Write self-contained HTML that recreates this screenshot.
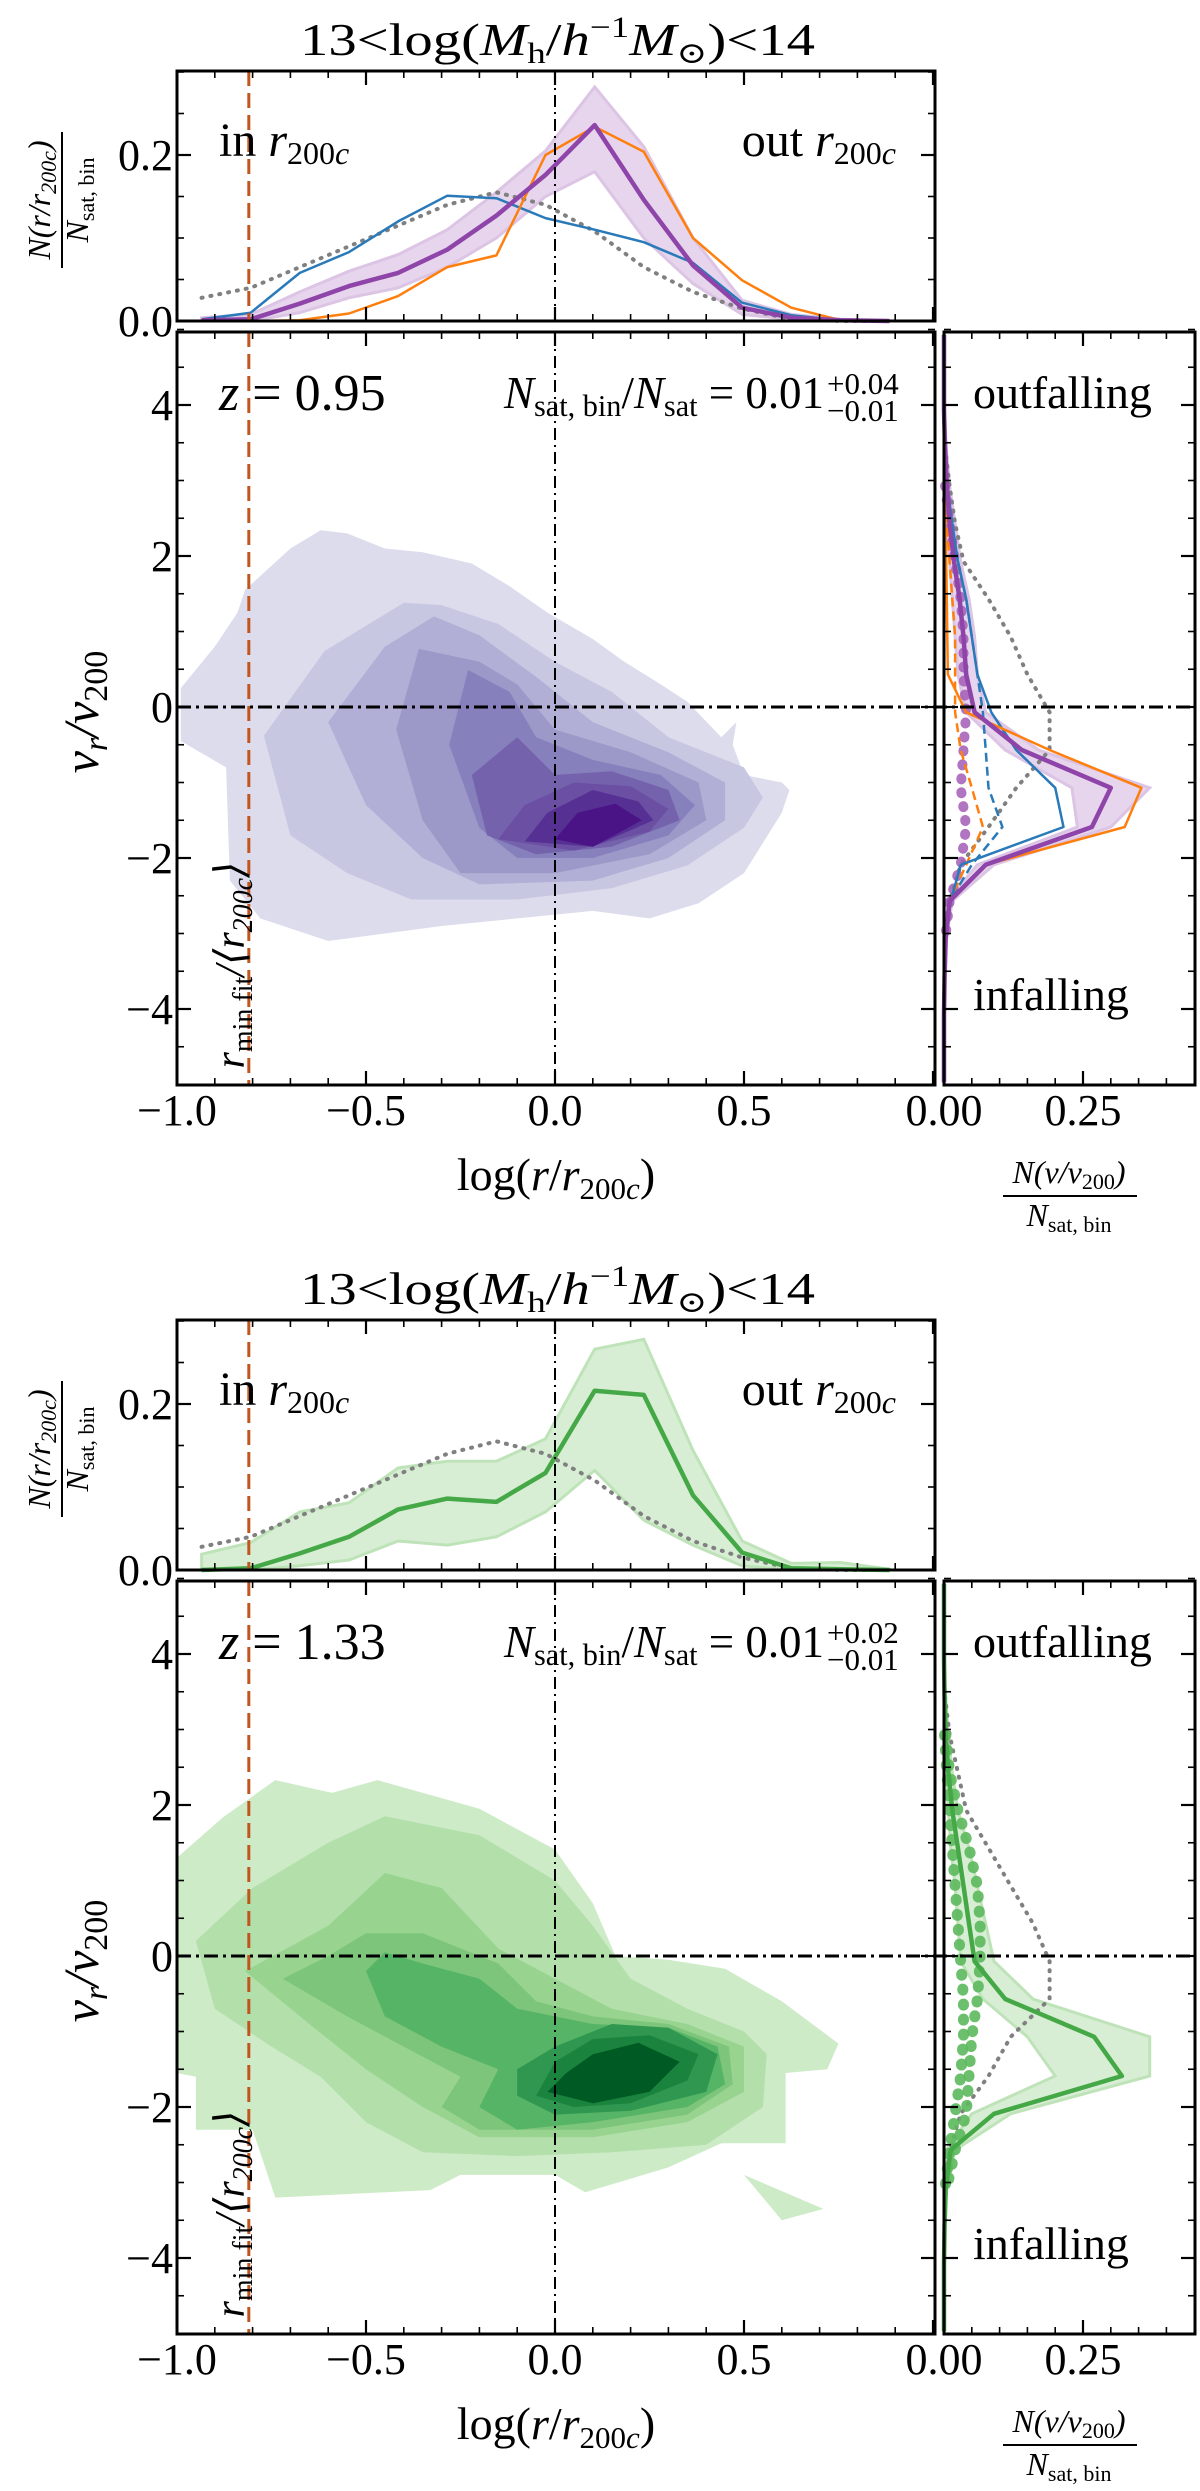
<!DOCTYPE html>
<html><head><meta charset="utf-8"><title>Radial velocity vs radius</title>
<style>
html,body{margin:0;padding:0;background:#fff;}
svg{display:block;font-family:"Liberation Serif","DejaVu Serif",serif;}
</style></head>
<body>
<svg id="chart" xmlns="http://www.w3.org/2000/svg" width="1200" height="2491" viewBox="0 0 1200 2491">
<defs>
<clipPath id="clipMain1"><rect x="177" y="332" width="758" height="753"/></clipPath>
<clipPath id="clipMain2"><rect x="177" y="1581" width="758" height="753"/></clipPath>
</defs>
</svg>
<script>
// ---------- data ----------
const rBins = [-0.935,-0.805,-0.675,-0.545,-0.415,-0.285,-0.155,-0.025,0.105,0.235,0.365,0.495,0.625,0.755,0.885];
const f1HistBlue   = [0.002,0.01,0.058,0.083,0.12,0.151,0.148,0.124,0.11,0.095,0.07,0.022,0.007,0.001,0];
const f1HistOrange = [0,0,0.001,0.009,0.03,0.065,0.079,0.2,0.234,0.204,0.1,0.049,0.016,0.001,0];
const f1HistPurple = [0.001,0.002,0.021,0.042,0.058,0.086,0.127,0.176,0.236,0.146,0.067,0.016,0.004,0.001,0];
const f1HistPurpleHi = [0.004,0.008,0.035,0.06,0.08,0.11,0.155,0.205,0.282,0.21,0.1,0.025,0.008,0.002,0];
const f1HistPurpleLo = [0,0,0.01,0.028,0.04,0.065,0.1,0.15,0.18,0.1,0.045,0.008,0.002,0,0];
const f1HistGray   = [0.028,0.04,0.065,0.09,0.115,0.14,0.155,0.14,0.108,0.065,0.035,0.015,0.002,0,0];
const f2HistGreen  = [0,0.002,0.02,0.04,0.073,0.086,0.082,0.117,0.216,0.211,0.09,0.021,0.002,0.001,0];
const f2HistGreenHi= [0.019,0.033,0.07,0.081,0.123,0.131,0.131,0.158,0.266,0.278,0.144,0.035,0.008,0.009,0.001];
const f2HistGreenLo= [0,0,0.005,0.012,0.035,0.03,0.04,0.07,0.12,0.06,0.03,0.005,0,0,0];
const f2HistGray   = [0.028,0.04,0.065,0.09,0.115,0.14,0.155,0.14,0.108,0.065,0.035,0.015,0.002,0,0];

const vBins = [4.93,4.43,3.93,3.43,2.93,2.43,1.93,1.43,0.93,0.43,-0.07,-0.57,-1.07,-1.59,-2.09,-2.57,-3.07,-3.57,-4.07,-4.57,-4.97];
const f1VPurple   = [0,0,0,0.002,0.005,0.01,0.018,0.028,0.035,0.04,0.055,0.14,0.3,0.266,0.075,0.01,0.003,0.001,0,0,0];
const f1VPurpleHi = [0,0,0,0.004,0.01,0.02,0.03,0.045,0.055,0.06,0.075,0.17,0.37,0.3,0.09,0.015,0.004,0.002,0,0,0];
const f1VPurpleLo = [0,0,0,0,0.002,0.005,0.01,0.015,0.02,0.025,0.04,0.11,0.23,0.24,0.06,0.005,0.001,0,0,0,0];
const f1VOrange   = [0,0,0,0,0,0.002,0.004,0.005,0.006,0.007,0.04,0.19,0.355,0.325,0.075,0.01,0.002,0,0,0,0];
const f1VBlue     = [0,0,0,0.002,0.006,0.015,0.025,0.04,0.05,0.06,0.085,0.13,0.2,0.215,0.03,0.012,0.003,0,0,0,0];
const f1VGray     = [0,0,0,0.002,0.01,0.02,0.035,0.08,0.12,0.15,0.19,0.19,0.13,0.08,0.03,0.01,0.002,0,0,0,0];
const f1VPurpleDots = [0,0,0,0,0.002,0.01,0.02,0.03,0.035,0.035,0.04,0.035,0.03,0.04,0.03,0.01,0.002,0,0,0,0];
const f1VBlueDash   = [0,0,0,0.001,0.004,0.012,0.025,0.04,0.05,0.06,0.07,0.075,0.08,0.105,0.05,0.01,0.002,0,0,0,0];
const f1VOrangeDash = [0,0,0,0,0.002,0.005,0.01,0.015,0.02,0.02,0.02,0.03,0.05,0.07,0.04,0.01,0.002,0,0,0,0];
const f2VGreen    = [0,0,0,0.001,0.003,0.008,0.015,0.025,0.035,0.045,0.055,0.11,0.27,0.32,0.09,0.012,0.003,0.001,0,0,0];
const f2VGreenHi  = [0,0,0,0.003,0.008,0.015,0.025,0.045,0.06,0.075,0.09,0.16,0.37,0.37,0.12,0.02,0.005,0.001,0,0,0];
const f2VGreenLo  = [0,0,0,0,0.001,0.003,0.008,0.012,0.02,0.025,0.03,0.07,0.15,0.2,0.05,0.004,0,0,0,0,0];
const f2VGray     = [0,0,0,0.002,0.01,0.025,0.04,0.08,0.12,0.16,0.19,0.19,0.12,0.08,0.03,0.01,0.002,0,0,0,0];
const f2VGreenDots  = [0,0,0,0,0.003,0.01,0.025,0.045,0.06,0.065,0.065,0.06,0.05,0.045,0.04,0.02,0.005,0,0,0,0];
const f2VGreenDots2 = [0,0,0,0,0.001,0.005,0.01,0.015,0.02,0.025,0.03,0.035,0.035,0.03,0.02,0.01,0.002,0,0,0,0];

const purpleLevels = [
 [[-0.99,0.25],[-0.9,0.8],[-0.84,1.25],[-0.82,1.55],[-0.7,2.1],[-0.62,2.34],[-0.55,2.3],[-0.45,2.1],[-0.35,2.05],[-0.22,1.9],[-0.12,1.6],[-0.02,1.25],[0.1,0.9],[0.18,0.61],[0.28,0.3],[0.35,0.07],[0.44,-0.4],[0.48,-0.2],[0.47,-0.5],[0.5,-0.9],[0.6,-1.0],[0.62,-1.1],[0.6,-1.4],[0.5,-2.2],[0.38,-2.6],[0.25,-2.8],[0.1,-2.7],[-0.1,-2.8],[-0.3,-2.9],[-0.45,-3.0],[-0.6,-3.1],[-0.78,-2.8],[-0.86,-2.3],[-0.87,-0.8],[-0.99,-0.45]],
 [[-0.77,-0.38],[-0.7,-1.7],[-0.55,-2.2],[-0.38,-2.55],[-0.1,-2.55],[0.15,-2.4],[0.35,-2.1],[0.5,-1.6],[0.55,-1.2],[0.5,-0.8],[0.3,-0.4],[0.15,0.2],[0.0,0.6],[-0.15,1.1],[-0.3,1.35],[-0.4,1.38],[-0.61,0.74]],
 [[-0.6,-0.2],[-0.5,-1.3],[-0.35,-2.0],[-0.2,-2.35],[0.1,-2.3],[0.3,-2.0],[0.45,-1.5],[0.45,-1.0],[0.3,-0.6],[0.1,-0.2],[-0.05,0.4],[-0.2,0.95],[-0.32,1.2],[-0.45,0.8]],
 [[-0.42,-0.3],[-0.35,-1.5],[-0.25,-2.2],[0.0,-2.2],[0.25,-1.95],[0.4,-1.5],[0.38,-1.0],[0.2,-0.6],[0.0,-0.3],[-0.1,0.3],[-0.2,0.6],[-0.36,0.77]],
 [[-0.28,-0.5],[-0.2,-1.6],[-0.1,-2.0],[0.1,-2.0],[0.3,-1.7],[0.37,-1.3],[0.28,-0.9],[0.1,-0.7],[-0.05,-0.4],[-0.12,0.2],[-0.23,0.49]],
 [[-0.22,-0.9],[-0.18,-1.7],[-0.05,-1.95],[0.15,-1.85],[0.33,-1.5],[0.3,-1.1],[0.15,-0.85],[0.0,-0.9],[-0.1,-0.4]],
 [[-0.15,-1.75],[0.05,-1.9],[0.25,-1.65],[0.3,-1.35],[0.2,-1.05],[0.05,-1.0],[-0.08,-1.3]],
 [[-0.08,-1.78],[0.1,-1.85],[0.26,-1.5],[0.22,-1.25],[0.1,-1.1],[-0.02,-1.4]],
 [[0.0,-1.75],[0.1,-1.85],[0.23,-1.5],[0.16,-1.28],[0.06,-1.4]]
];
const greenLevels = [
 [[-1.0,1.3],[-0.88,1.83],[-0.74,2.33],[-0.59,2.16],[-0.47,2.33],[-0.2,1.95],[0.0,1.41],[0.1,0.7],[0.16,0.0],[0.3,-0.05],[0.45,-0.17],[0.6,-0.6],[0.75,-1.16],[0.72,-1.5],[0.61,-1.55],[0.61,-2.48],[0.44,-2.48],[0.3,-2.8],[0.08,-3.13],[0.0,-2.9],[-0.25,-2.9],[-0.33,-3.1],[-0.74,-3.2],[-0.8,-2.3],[-0.95,-2.3],[-0.95,-1.6],[-1.0,-1.55]],
 [[0.5,-2.9],[0.71,-3.35],[0.6,-3.5]],
 [[-0.95,0.2],[-0.9,-0.7],[-0.75,-1.2],[-0.62,-1.6],[-0.5,-2.2],[-0.35,-2.6],[-0.1,-2.65],[0.15,-2.6],[0.4,-2.5],[0.55,-2.0],[0.56,-1.3],[0.5,-1.0],[0.35,-0.7],[0.2,-0.3],[0.1,0.4],[0.0,1.0],[-0.2,1.6],[-0.45,1.85],[-0.6,1.5],[-0.8,0.9]],
 [[-0.82,-0.2],[-0.65,-0.9],[-0.5,-1.5],[-0.35,-2.0],[-0.2,-2.4],[0.1,-2.4],[0.35,-2.2],[0.5,-1.8],[0.5,-1.2],[0.35,-0.9],[0.15,-0.7],[0.0,-0.3],[-0.15,0.1],[-0.3,0.9],[-0.45,1.1],[-0.6,0.4]],
 [[-0.72,-0.3],[-0.55,-0.8],[-0.4,-1.2],[-0.25,-1.6],[-0.3,-2.0],[-0.2,-2.3],[0.1,-2.3],[0.35,-2.1],[0.47,-1.7],[0.46,-1.2],[0.3,-0.9],[0.1,-0.8],[-0.05,-0.6],[-0.15,-0.1],[-0.35,0.3],[-0.5,0.3],[-0.6,0.0]],
 [[-0.5,-0.2],[-0.45,-0.8],[-0.3,-1.2],[-0.15,-1.5],[-0.2,-2.0],[-0.1,-2.3],[0.1,-2.2],[0.35,-2.0],[0.45,-1.7],[0.43,-1.2],[0.3,-0.95],[0.1,-0.9],[-0.1,-0.7],[-0.2,-0.3],[-0.35,-0.1],[-0.45,0.05]],
 [[-0.1,-1.85],[0.0,-2.1],[0.2,-2.05],[0.4,-1.8],[0.43,-1.3],[0.3,-0.95],[0.15,-0.9],[0.0,-1.2],[-0.1,-1.5]],
 [[-0.05,-1.85],[0.05,-2.0],[0.2,-1.95],[0.35,-1.65],[0.38,-1.3],[0.25,-1.05],[0.1,-1.1],[0.0,-1.4]],
 [[-0.02,-1.8],[0.1,-1.95],[0.25,-1.8],[0.33,-1.4],[0.22,-1.15],[0.1,-1.3],[0.03,-1.55]]
];
const purpleColors = ["#dcdcec","#c8c7e2","#b1afd5","#9c98c8","#8680bc","#7562ad","#6a4fa3","#573093","#4a1486"];
const greenColors  = ["#cdebc7","#cdebc7","#b2dfaa","#98d490","#7cc57a","#55b466","#2f974f","#1a843f","#005a24"];

const xTickLabels = ["−1.0","−0.5","0.0","0.5"];
const xTickVals = [-1,-0.5,0,0.5];
const vTickLabels = ["−4","−2","0","2","4"];
const vTickVals = [-4,-2,0,2,4];
const hTickLabels = ["0.0","0.2"];
const hTickVals = [0,0.2];
const nTickLabels = ["0.00","0.25"];
const nTickVals = [0,0.25];

// ---------- helpers ----------
const NS = "http://www.w3.org/2000/svg";
const svg = document.getElementById("chart");
function mk(tag, attrs, parent){
  const e = document.createElementNS(NS, tag);
  for (const k in attrs) e.setAttribute(k, attrs[k]);
  (parent||svg).appendChild(e);
  return e;
}
const xS = v => 177 + (v + 1) * 378;
const xR = n => 944 + n * 556;
function pathD(pts){ return pts.map((p,i)=>(i?"L":"M")+p[0].toFixed(1)+","+p[1].toFixed(1)).join(""); }

function ticks(g, x0, x1, y0, y1, xMaj, xMin, yMaj, yMin){
  const add = (a,b,c,d,w) => mk("line",{x1:a,y1:b,x2:c,y2:d,stroke:"#000","stroke-width":w},g);
  xMaj.forEach(x=>{ add(x,y1,x,y1-14,2.2); add(x,y0,x,y0+14,2.2); });
  xMin.forEach(x=>{ add(x,y1,x,y1-7,1.6); add(x,y0,x,y0+7,1.6); });
  yMaj.forEach(y=>{ add(x0,y,x0+14,y,2.2); add(x1,y,x1-14,y,2.2); });
  yMin.forEach(y=>{ add(x0,y,x0+7,y,1.6); add(x1,y,x1-7,y,1.6); });
}
function range(a,b,s){ const r=[]; for(let v=a; v<=b+1e-9; v+=s) r.push(Math.round(v*1000)/1000); return r; }

function drawFigure(fig){
  const off = fig.off;
  const yH = v => 321 + off - v * 830;
  const yM = v => 707 + off - v * 75.5;
  const G = mk("g",{});
  
  

  // title
  const t = mk("text",{x:300,y:55+off,"font-size":46,textLength:515,lengthAdjust:"spacingAndGlyphs"},G);
  
  
  t.innerHTML = '13&lt;log(<tspan font-style="italic">M</tspan><tspan font-size="30" dy="8">h</tspan><tspan dy="-8">/</tspan><tspan font-style="italic">h</tspan><tspan font-size="30" dy="-18">−1</tspan><tspan dy="18" font-style="italic">M</tspan><tspan font-size="30" dy="8" font-family="DejaVu Serif">⊙</tspan><tspan dy="-8">)&lt;14</tspan>';

  // ---- top histogram ----
  const hg = mk("g",{},G);
  
  
  const bandPts = rBins.map((r,i)=>[xS(r),yH(fig.hHi[i])]).concat(rBins.map((r,i)=>[xS(r),yH(fig.hLo[i])]).reverse());
  const band = mk("path",{d:pathD(bandPts)+"Z",fill:fig.bandFill,stroke:fig.bandStroke,"stroke-width":3},hg);
  
  
  fig.hLines.forEach(L=>{
    const p = mk("path",{d:pathD(rBins.map((r,i)=>[xS(r),yH(L.vals[i])])),fill:"none",stroke:L.color,"stroke-width":L.w,"stroke-dasharray":L.dash||"none","stroke-linecap":L.cap||"butt","stroke-linejoin":"round"},hg);
    
    
  });
  const hv = mk("line",{x1:xS(0),y1:71+off,x2:xS(0),y2:321+off,stroke:"#000","stroke-width":2,"stroke-dasharray":"12,5,2,5"},hg);
  
  
  const ho = mk("line",{x1:xS(-0.81),y1:71+off,x2:xS(-0.81),y2:321+off,stroke:"#c0561e","stroke-width":3,"stroke-dasharray":"15,7"},hg);
  
  
  mk("rect",{x:177,y:71+off,width:758,height:250,fill:"none",stroke:"#000","stroke-width":3},hg);
  ticks(hg,177,935,71+off,321+off,range(-1,1,0.5).map(xS),range(-0.9,0.9,0.1).map(xS),[0,0.2].map(yH),[0.05,0.1,0.15,0.25,0.3].map(yH));
  hTickLabels.forEach((lab,i)=>{
    const e = mk("text",{x:173,y:yH(hTickVals[i])+15,"text-anchor":"end","font-size":44},hg);
    e.textContent = lab;
    
    
  });
  const inT = mk("text",{x:219,y:156+off,"font-size":48},hg);
  inT.innerHTML = 'in <tspan font-style="italic">r</tspan><tspan font-size="32" dy="8">200<tspan font-style="italic">c</tspan></tspan>';
  
  
  const outT = mk("text",{x:896,y:156+off,"font-size":48,"text-anchor":"end"},hg);
  outT.innerHTML = 'out <tspan font-style="italic">r</tspan><tspan font-size="32" dy="8">200<tspan font-style="italic">c</tspan></tspan>';
  
  
  const hy = mk("g",{transform:"translate(62,"+(200+off)+") rotate(-90)"},hg);
  
  
  const hn = mk("text",{x:0,y:-12,"text-anchor":"middle","font-size":32,"font-style":"italic"},hy);
  hn.innerHTML = 'N(r/r<tspan font-size="22" dy="6">200c</tspan><tspan dy="-6">)</tspan>';
  mk("line",{x1:-68,y1:0,x2:68,y2:0,stroke:"#000","stroke-width":2},hy);
  const hd = mk("text",{x:0,y:26,"text-anchor":"middle","font-size":32,"font-style":"italic"},hy);
  hd.innerHTML = 'N<tspan font-size="22" dy="6" font-style="normal">sat, bin</tspan>';

  // ---- main contour panel ----
  const mg = mk("g",{"clip-path":"url(#"+fig.clip+")"},G);
  
  
  fig.levels.forEach((poly,i)=>{
    const p = mk("path",{d:pathD(poly.map(q=>[xS(q[0]),yM(q[1])]))+"Z",fill:fig.colors[i]},mg);
    
    
  });
  const ax = mk("g",{},G);
  
  
  const mv = mk("line",{x1:xS(0),y1:332+off,x2:xS(0),y2:1085+off,stroke:"#000","stroke-width":2,"stroke-dasharray":"12,5,2,5"},ax);
  
  
  const mo = mk("line",{x1:xS(-0.81),y1:332+off,x2:xS(-0.81),y2:1085+off,stroke:"#c0561e","stroke-width":3,"stroke-dasharray":"15,7"},ax);
  
  
  mk("rect",{x:177,y:332+off,width:758,height:753,fill:"none",stroke:"#000","stroke-width":3},ax);
  ticks(ax,177,935,332+off,1085+off,range(-1,1,0.5).map(xS),range(-0.9,0.9,0.1).map(xS),vTickVals.map(yM),range(-5,5,0.5).filter(v=>v%2!==0).map(yM));
  xTickLabels.forEach((lab,i)=>{
    const e = mk("text",{x:xS(xTickVals[i]),y:1125+off,"text-anchor":"middle","font-size":44},ax);
    e.textContent = lab;
    
    
  });
  vTickLabels.forEach((lab,i)=>{
    const e = mk("text",{x:173,y:yM(vTickVals[i])+15,"text-anchor":"end","font-size":44},ax);
    e.textContent = lab;
    
    
  });
  const xl = mk("text",{x:556,y:1190+off,"text-anchor":"middle","font-size":46},ax);
  xl.innerHTML = 'log(<tspan font-style="italic">r</tspan>/<tspan font-style="italic">r</tspan><tspan font-size="31" dy="9">200<tspan font-style="italic">c</tspan></tspan><tspan dy="-9">)</tspan>';
  
  
  const yl = mk("text",{transform:"translate(98,"+(712+off)+") rotate(-90)","text-anchor":"middle","font-size":50,"font-style":"italic"},ax);
  yl.innerHTML = 'v<tspan font-size="34" dy="9">r</tspan><tspan dy="-9">/v</tspan><tspan font-size="34" dy="9" font-style="normal">200</tspan>';
  
  
  const rl = mk("text",{transform:"translate(244,"+(965+off)+") rotate(-90)","text-anchor":"middle","font-size":42,"font-style":"italic"},ax);
  rl.innerHTML = 'r<tspan font-size="28" dy="8" font-style="normal">min fit</tspan><tspan dy="-8">/⟨r</tspan><tspan font-size="28" dy="8">200c</tspan><tspan dy="-8">⟩</tspan>';
  
  
  const zt = mk("text",{x:219,y:410+off,"font-size":52},ax);
  zt.innerHTML = '<tspan font-style="italic">z</tspan> = '+fig.z;
  
  
  const ft = mk("text",{x:504,y:408+off,"font-size":46,textLength:320,lengthAdjust:"spacingAndGlyphs"},ax);
  ft.innerHTML = '<tspan font-style="italic">N</tspan><tspan font-size="31" dy="8">sat, bin</tspan><tspan dy="-8">/</tspan><tspan font-style="italic">N</tspan><tspan font-size="31" dy="8">sat</tspan><tspan dy="-8"> = 0.01</tspan>';
  
  
  const fu = mk("text",{x:827,y:394+off,"font-size":31},ax);
  fu.textContent = fig.up;
  
  
  const fd = mk("text",{x:827,y:421+off,"font-size":31},ax);
  fd.textContent = "−0.01";
  
  

  // ---- right velocity histogram ----
  const rg = mk("g",{},G);
  
  
  const vb = vBins.map((v,i)=>[xR(fig.vHi[i]),yM(v)]).concat(vBins.map((v,i)=>[xR(fig.vLo[i]),yM(v)]).reverse());
  const vband = mk("path",{d:pathD(vb)+"Z",fill:fig.bandFill,stroke:fig.bandStroke,"stroke-width":3},rg);
  
  
  fig.vLines.forEach(L=>{
    let pts = vBins.map((v,i)=>[xR(L.vals[i]),yM(v),L.vals[i]]);
    if (L.trim){
      let a = pts.findIndex(p=>p[2]>0), b = pts.length-1;
      while (b>0 && pts[b][2]<=0) b--;
      pts = pts.slice(a,b+1);
    }
    const p = mk("path",{d:pathD(pts),fill:"none",stroke:L.color,"stroke-width":L.w,"stroke-dasharray":L.dash||"none","stroke-linecap":L.cap||"butt","stroke-linejoin":"round","opacity":L.op||1},rg);
    
    
  });
  mk("rect",{x:944,y:332+off,width:251,height:753,fill:"none",stroke:"#000","stroke-width":3},rg);
  ticks(rg,944,1195,332+off,1085+off,[0,0.25].map(xR),[0.05,0.1,0.15,0.2,0.3,0.35,0.4].map(xR),vTickVals.map(yM),range(-5,5,0.5).filter(v=>v%2!==0).map(yM));
  nTickLabels.forEach((lab,i)=>{
    const e = mk("text",{x:xR(nTickVals[i]),y:1125+off,"text-anchor":"middle","font-size":44},rg);
    e.textContent = lab;
    
    
  });
  const of = mk("text",{x:973,y:408+off,"font-size":46},rg);
  of.textContent = "outfalling";
  
  
  const inf = mk("text",{x:973,y:1010+off,"font-size":46},rg);
  inf.textContent = "infalling";
  
  
  const rx = mk("g",{},rg);
  
  
  const rn = mk("text",{x:1069,y:1183+off,"text-anchor":"middle","font-size":32,"font-style":"italic"},rx);
  rn.innerHTML = 'N(v/v<tspan font-size="22" dy="6" font-style="normal">200</tspan><tspan dy="-6">)</tspan>';
  mk("line",{x1:1003,y1:1196+off,x2:1137,y2:1196+off,stroke:"#000","stroke-width":2},rx);
  const rd = mk("text",{x:1069,y:1226+off,"text-anchor":"middle","font-size":32,"font-style":"italic"},rx);
  rd.innerHTML = 'N<tspan font-size="22" dy="6" font-style="normal">sat, bin</tspan>';

  const hz = mk("line",{x1:177,y1:yM(0),x2:1195,y2:yM(0),stroke:"#000","stroke-width":3,"stroke-dasharray":"14,5,3,5"},G);
  
  
}

drawFigure({
  name:"figure-z095", off:0, clip:"clipMain1", z:"0.95", up:"+0.04",
  bandFill:"#e6d5ec", bandStroke:"#dcc4e5",
  hHi:f1HistPurpleHi, hLo:f1HistPurpleLo,
  hLines:[
    {name:"hist-gray-dotted",vals:f1HistGray,color:"#808080",w:4,dash:"1,8",cap:"round"},
    {name:"hist-blue",vals:f1HistBlue,color:"#2a7ab9",w:2.5},
    {name:"hist-orange",vals:f1HistOrange,color:"#ff7f0e",w:2.5},
    {name:"hist-purple",vals:f1HistPurple,color:"#8e44a8",w:4.5}
  ],
  levels:purpleLevels, colors:purpleColors,
  vHi:f1VPurpleHi, vLo:f1VPurpleLo,
  vLines:[
    {name:"velocity-gray-dotted",vals:f1VGray,color:"#808080",w:4,dash:"1,8",cap:"round",trim:true},
    {name:"velocity-purple-dots",vals:f1VPurpleDots,color:"#a25cb6",w:10,dash:"1,13",cap:"round",op:0.85,trim:true},
    {name:"velocity-blue-dashed",vals:f1VBlueDash,color:"#2a7ab9",w:2.5,dash:"9,5",trim:true},
    {name:"velocity-orange-dashed",vals:f1VOrangeDash,color:"#ff7f0e",w:2.5,dash:"9,5",trim:true},
    {name:"velocity-blue",vals:f1VBlue,color:"#2a7ab9",w:2.5},
    {name:"velocity-orange",vals:f1VOrange,color:"#ff7f0e",w:2.5},
    {name:"velocity-purple",vals:f1VPurple,color:"#8e44a8",w:4.5}
  ]
});
drawFigure({
  name:"figure-z133", off:1249, clip:"clipMain2", z:"1.33", up:"+0.02",
  bandFill:"#d8eed4", bandStroke:"#bfe3b9",
  hHi:f2HistGreenHi, hLo:f2HistGreenLo,
  hLines:[
    {name:"hist-gray-dotted",vals:f2HistGray,color:"#808080",w:4,dash:"1,8",cap:"round"},
    {name:"hist-green",vals:f2HistGreen,color:"#45a847",w:4.5}
  ],
  levels:greenLevels, colors:greenColors,
  vHi:f2VGreenHi, vLo:f2VGreenLo,
  vLines:[
    {name:"velocity-gray-dotted",vals:f2VGray,color:"#808080",w:4,dash:"1,8",cap:"round",trim:true},
    {name:"velocity-green-dots",vals:f2VGreenDots,color:"#5cb85c",w:11,dash:"1,14",cap:"round",op:0.9,trim:true},
    {name:"velocity-green-dots-inner",vals:f2VGreenDots2,color:"#5cb85c",w:11,dash:"1,14",cap:"round",op:0.9,trim:true},
    {name:"velocity-green",vals:f2VGreen,color:"#45a847",w:4.5}
  ]
});
</script>
</body></html>
